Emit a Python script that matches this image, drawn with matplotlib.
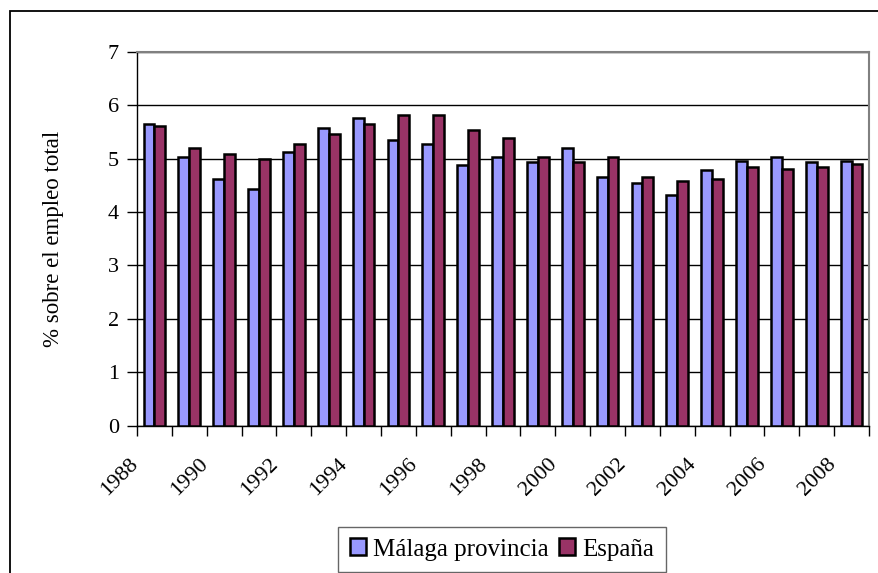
import matplotlib
matplotlib.use("Agg")
import matplotlib.pyplot as plt
import numpy as np
from matplotlib.patches import Rectangle

years = list(range(1988, 2009))
malaga = [5.65, 5.03, 4.62, 4.43, 5.12, 5.57, 5.76, 5.34, 5.27, 4.88, 5.03,
          4.93, 5.19, 4.65, 4.55, 4.32, 4.78, 4.96, 5.03, 4.93, 4.96]
espana = [5.61, 5.19, 5.08, 5.00, 5.27, 5.46, 5.65, 5.81, 5.81, 5.54, 5.38,
          5.03, 4.93, 5.03, 4.66, 4.58, 4.62, 4.85, 4.81, 4.85, 4.89]
series_names = ["Málaga provincia", "España"]
y_label = "% sobre el empleo total"

plt.rcParams["font.family"] = ["Liberation Serif", "DejaVu Serif"]

fig = plt.figure(figsize=(8.79, 5.73), dpi=100)
ax = fig.add_axes([137 / 879, 1 - 425.7 / 573, (869 - 137) / 879, (425.7 - 51.7) / 573])

# outer chart frame (runs off the right and bottom of the picture)
fig.patches.append(Rectangle((10 / 879, -0.1), 1.2, 1 - 11 / 573 + 0.1,
                             transform=fig.transFigure, fill=False,
                             edgecolor="black", lw=1.3, zorder=0))

x = np.arange(len(years))
w = 0.31
ax.bar(x - w / 2, malaga, w, color="#9999FF", edgecolor="black", lw=1.8,
       label=series_names[0], zorder=3)
ax.bar(x + w / 2, espana, w, color="#993366", edgecolor="black", lw=1.8,
       label=series_names[1], zorder=3)

ax.set_xlim(-0.5, len(years) - 0.5)
ax.set_ylim(0, 7)
ax.set_yticks(range(0, 8))
ax.yaxis.grid(True, color="black", lw=1)
ax.set_axisbelow(True)

# ticks on category boundaries, labels every second year
ax.set_xticks(np.arange(len(years) + 1) - 0.5)
ax.set_xticklabels([])
for i, yr in enumerate(years):
    if i % 2 == 0:
        ax.text(i - 0.73, -0.55, str(yr), rotation=45, ha="right", va="top",
                rotation_mode="anchor", fontsize=16,
                transform=ax.transData)

ax.tick_params(axis="both", direction="out", length=7, width=1, color="black",
               labelsize=16)
ax.tick_params(axis="y", pad=6)
for side in ["top", "right"]:
    ax.spines[side].set_color("#808080")
    ax.spines[side].set_linewidth(1.5)
for side in ["left", "bottom"]:
    ax.spines[side].set_color("black")
    ax.spines[side].set_linewidth(1)

ax.set_ylabel(y_label, fontsize=16.5)
ax.yaxis.set_label_coords(-0.100, 0.5)

leg = fig.legend(loc="center", bbox_to_anchor=(502 / 879, 1 - 549.5 / 573),
                 ncol=2, fontsize=18, frameon=True, fancybox=False,
                 handlelength=0.65, handleheight=0.65, handletextpad=0.3,
                 columnspacing=0.4, borderpad=0.45)
leg.get_frame().set_edgecolor("#404040")
leg.get_frame().set_linewidth(1)
for h in leg.legend_handles:
    h.set_linewidth(1.8)

fig.savefig("out.png", dpi=100)
